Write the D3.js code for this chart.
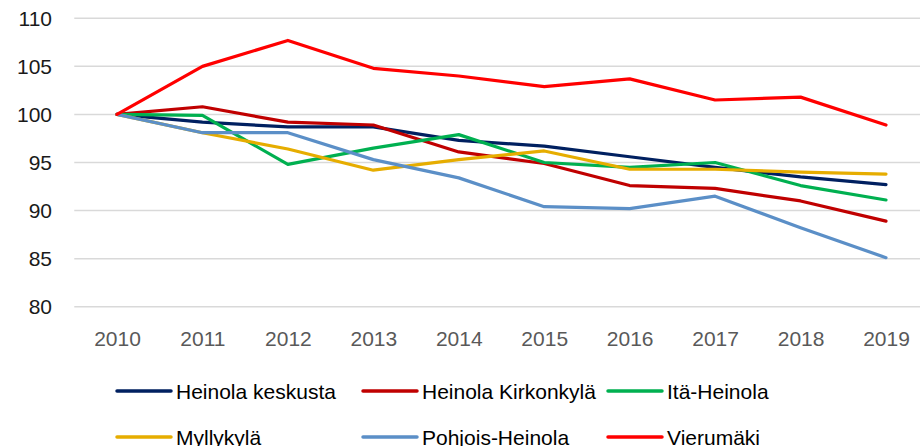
<!DOCTYPE html>
<html>
<head>
<meta charset="utf-8">
<script src="https://cdn.jsdelivr.net/npm/d3@7"></script>
<style>
  body { margin: 0; background: #fff; }
  text { font-family: "Liberation Sans", Arial, sans-serif; }
</style>
</head>
<body>
<div id="chart"></div>
<script>
// years on the x axis
var years = [2010, 2011, 2012, 2013, 2014, 2015, 2016, 2017, 2018, 2019];
var yTicks = [80, 85, 90, 95, 100, 105, 110];

// index values (2010 = 100)
var heinolaKeskusta   = [100, 99.2, 98.7, 98.7, 97.3, 96.7, 95.6, 94.5, 93.5, 92.7];
var heinolaKirkonkyla = [100, 100.8, 99.2, 98.9, 96.1, 94.9, 92.6, 92.3, 91.0, 88.9];
var itaHeinola        = [100, 99.9, 94.8, 96.5, 97.9, 95.0, 94.5, 95.0, 92.6, 91.1];
var myllykyla         = [100, 98.1, 96.4, 94.2, 95.3, 96.2, 94.3, 94.3, 94.0, 93.8];
var pohjoisHeinola    = [100, 98.1, 98.1, 95.3, 93.4, 90.4, 90.2, 91.5, 88.2, 85.1];
var vierumaki         = [100, 105.0, 107.7, 104.8, 104.0, 102.9, 103.7, 101.5, 101.8, 98.9];

var names  = ["Heinola keskusta", "Heinola Kirkonkylä", "Itä-Heinola", "Myllykylä", "Pohjois-Heinola", "Vierumäki"];
var values = [heinolaKeskusta, heinolaKirkonkyla, itaHeinola, myllykyla, pohjoisHeinola, vierumaki];
var colors = ["#002060", "#c00000", "#00b050", "#e6ad00", "#5b8fc7", "#ff0000"];

var width = 920, height = 446;

var svg = d3.select("#chart")
    .append("svg")
    .attr("width", width)
    .attr("height", height);

var xScale = d3.scalePoint()
    .domain(years)
    .range([117, 886]);

var yScale = d3.scaleLinear()
    .domain([80, 110])
    .range([306.7, 18.3]);

var step = xScale.step();

// gridlines
svg.append("g")
    .selectAll("line")
    .data(yTicks)
    .enter()
    .append("line")
    .attr("x1", xScale(years[0]) - step / 2)
    .attr("x2", xScale(years[years.length - 1]) + step / 2)
    .attr("y1", function (d) { return yScale(d); })
    .attr("y2", function (d) { return yScale(d); })
    .attr("stroke", "#d9d9d9")
    .attr("stroke-width", 1.5);

// Y axis labels
var yAxis = svg.append("g")
    .attr("transform", "translate(52,0)")
    .call(d3.axisLeft(yScale).tickValues(yTicks).tickSize(0).tickPadding(0));
yAxis.select(".domain").remove();
yAxis.selectAll("text")
    .attr("font-family", "Liberation Sans, Arial, sans-serif")
    .attr("font-size", 21)
    .attr("fill", "#1a1a1a");

// X axis labels
var xAxis = svg.append("g")
    .attr("transform", "translate(0,331)")
    .call(d3.axisBottom(xScale).tickSize(0).tickPadding(0));
xAxis.select(".domain").remove();
xAxis.selectAll("text")
    .attr("font-family", "Liberation Sans, Arial, sans-serif")
    .attr("font-size", 21)
    .attr("fill", "#595959");

// lines
var line = d3.line()
    .x(function (d, i) { return xScale(years[i]); })
    .y(function (d) { return yScale(d); });

svg.append("g")
    .selectAll("path")
    .data(values)
    .enter()
    .append("path")
    .attr("fill", "none")
    .attr("stroke", function (d, i) { return colors[i]; })
    .attr("stroke-width", 3.2)
    .attr("stroke-linejoin", "round")
    .attr("stroke-linecap", "round")
    .attr("d", line);

// legend (second row is cut off by the bottom edge, as in the original)
var legendX = [117, 363, 608];
var legendY = [391, 437];

var legend = svg.append("g")
    .selectAll("g")
    .data(names)
    .enter()
    .append("g")
    .attr("transform", function (d, i) {
        return "translate(" + legendX[i % 3] + "," + legendY[Math.floor(i / 3)] + ")";
    });

legend.append("line")
    .attr("x1", 0)
    .attr("x2", 54)
    .attr("stroke", function (d, i) { return colors[i]; })
    .attr("stroke-width", 3.5)
    .attr("stroke-linecap", "round");

legend.append("text")
    .attr("x", 59)
    .attr("y", 7.5)
    .attr("font-size", 21)
    .attr("fill", "#000")
    .text(function (d) { return d; });
</script>
</body>
</html>
